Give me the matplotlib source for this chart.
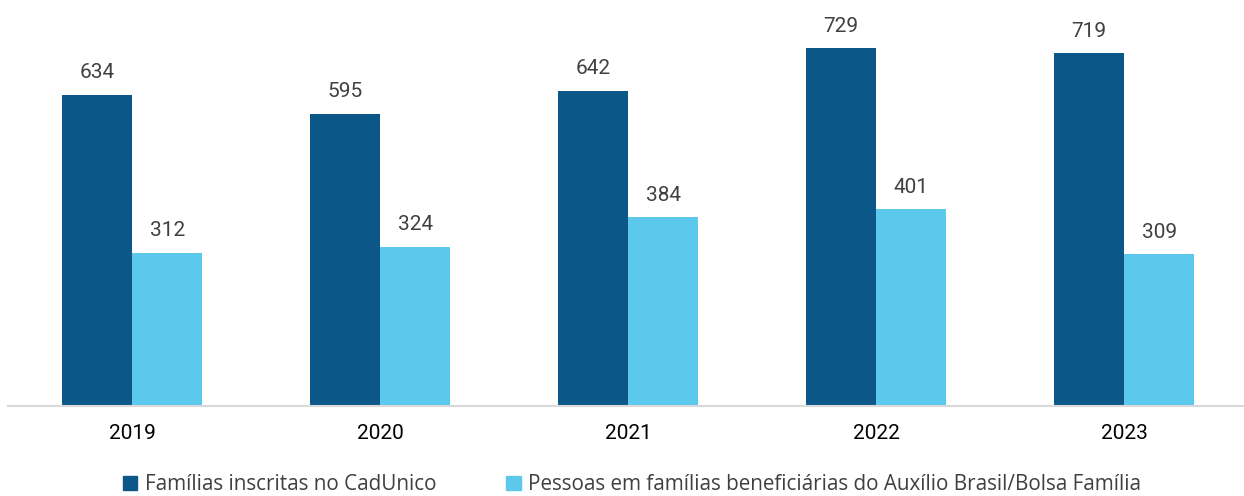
import matplotlib
matplotlib.use("Agg")
import matplotlib.pyplot as plt
import numpy as np
from matplotlib.patches import Patch

years = ["2019", "2020", "2021", "2022", "2023"]
familias = [634, 595, 642, 729, 719]
pessoas = [312, 324, 384, 401, 309]
series_names = ["Famílias inscritas no CadUnico",
                "Pessoas em famílias beneficiárias do Auxílio Brasil/Bolsa Família"]
colors = ["#0B5788", "#5BC8EC"]

fig = plt.figure(figsize=(12.44, 4.96), dpi=100)
ax = fig.add_axes([8/1244, 90/496, 1240/1244, 406/496])

x = np.arange(len(years))
w = 0.284
b1 = ax.bar(x - w/2, familias, w, color=colors[0])
b2 = ax.bar(x + w/2, pessoas, w, color=colors[1])

for bars in (b1, b2):
    for r in bars:
        ax.annotate(f"{int(r.get_height())}", (r.get_x() + r.get_width()/2, r.get_height()),
                    xytext=(0, 9), textcoords="offset points", ha="center", va="bottom",
                    fontsize=15, color="#404040", family="Roboto")

ax.set_xlim(-0.5, 4.5)
ax.set_ylim(0, 827)
ax.set_yticks([])
for s in ["top", "right", "left"]:
    ax.spines[s].set_visible(False)
ax.spines["bottom"].set_color("#D9D9D9")
ax.spines["bottom"].set_linewidth(1.5)
ax.set_xticks(x)
ax.set_xticklabels(years, fontsize=15, family="Roboto", color="#000000")
ax.tick_params(axis="x", length=0, pad=13)

handles = [Patch(color=c) for c in colors]
fig.legend(handles, series_names, loc="center", bbox_to_anchor=(632/1244, 1 - 485/496),
           ncol=2, frameon=False, prop={"family": "Open Sans", "size": 14.9},
           handlelength=0.68, handleheight=0.68, handletextpad=0.35, columnspacing=3.4,
           labelcolor="#404040")

fig.savefig("out.png", dpi=100)
